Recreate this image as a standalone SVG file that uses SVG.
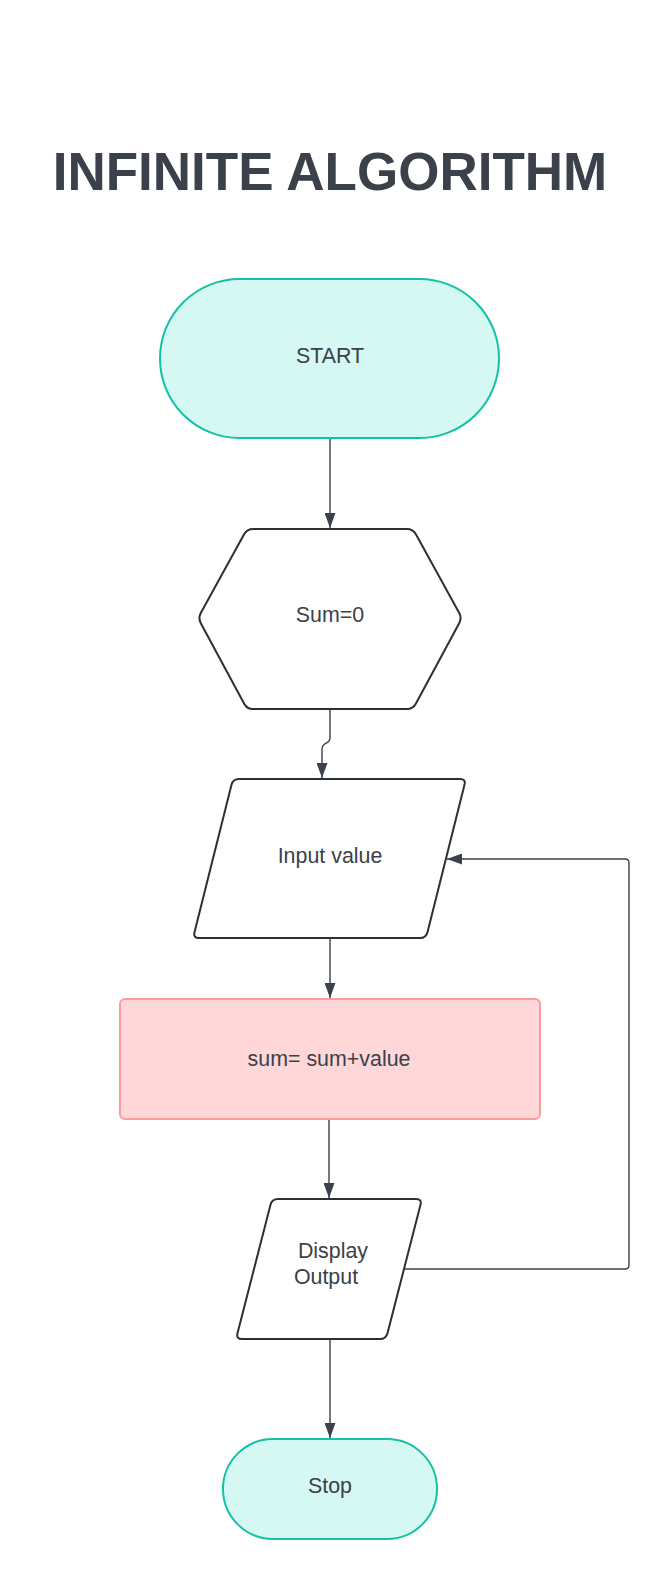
<svg xmlns="http://www.w3.org/2000/svg" width="670" height="1580" viewBox="0 0 670 1580">
  <style>
    .title { font-family: "Liberation Sans", Arial, sans-serif; font-weight: bold; font-size: 53px; fill: #3a414a; text-anchor: middle; }
    .lbl { font-family: "Liberation Sans", Arial, sans-serif; font-size: 21.4px; fill: #3a414a; text-anchor: middle; }
    .term { fill: #d6f8f2; stroke: #13c2a6; stroke-width: 2; }
    .plain { fill: #ffffff; stroke: #2b2f36; stroke-width: 2; stroke-linejoin: round; }
    .proc { fill: #ffd7d9; stroke: #ff9a9b; stroke-width: 2; }
    .conn { fill: none; stroke: #3a414a; stroke-width: 1.4; marker-end: url(#arrow); }
  </style>
  <defs>
    <marker id="arrow" viewBox="0 0 15 11" refX="15" refY="5.5" markerWidth="15" markerHeight="11" markerUnits="userSpaceOnUse" orient="auto">
      <path d="M0,0 L15,5.5 L0,11 z" fill="#3a414a"/>
    </marker>
  </defs>
  <rect width="670" height="1580" fill="#ffffff"/>

  <text class="title" x="330" y="190">INFINITE ALGORITHM</text>

  <g id="connectors">
    <path class="conn" d="M330,439 V528"/>
    <path class="conn" d="M330,709 V738 C330,745 322,741 322,749 V778"/>
    <path class="conn" d="M330,938 V998"/>
    <path class="conn" d="M329,1119 V1198"/>
    <path class="conn" d="M330,1339 V1438"/>
    <path class="conn" d="M404,1269 H625 Q629,1269 629,1265 V863 Q629,859 625,859 H447"/>
  </g>

  <g id="start">
    <rect class="term" x="160" y="279" width="339" height="159" rx="79.5"/>
    <text class="lbl" x="330" y="363">START</text>
  </g>

  <g id="sum0">
    <path class="plain" d="M200.9,612.7 L244.1,534.3 Q247,529 253,529 L407,529 Q413,529 415.9,534.3 L459.1,612.7 Q462,618 459.2,623.3 L415.8,703.7 Q413,709 407,709 L253,709 Q247,709 244.2,703.7 L200.8,623.3 Q198,618 200.9,612.7 Z"/>
    <text class="lbl" x="330" y="622">Sum=0</text>
  </g>

  <g id="input">
    <path class="plain" d="M194.5,932.2 L231.5,784.8 Q233,779 239,779 L460,779 Q466,779 464.5,784.8 L427.5,932.2 Q426,938 420,938 L199,938 Q193,938 194.5,932.2 Z"/>
    <text class="lbl" x="330" y="863">Input value</text>
  </g>

  <g id="process">
    <rect class="proc" x="120" y="999" width="420" height="120" rx="5"/>
    <text class="lbl" x="329" y="1066">sum= sum+value</text>
  </g>

  <g id="display">
    <path class="plain" d="M237.5,1333.2 L270.5,1204.8 Q272,1199 278,1199 L416,1199 Q422,1199 420.5,1204.8 L387.5,1333.2 Q386,1339 380,1339 L242,1339 Q236,1339 237.5,1333.2 Z"/>
    <text class="lbl" x="333" y="1258">Display</text>
    <text class="lbl" x="326" y="1284">Output</text>
  </g>

  <g id="stop">
    <rect class="term" x="223" y="1439" width="214" height="100" rx="50"/>
    <text class="lbl" x="330" y="1493">Stop</text>
  </g>
</svg>
